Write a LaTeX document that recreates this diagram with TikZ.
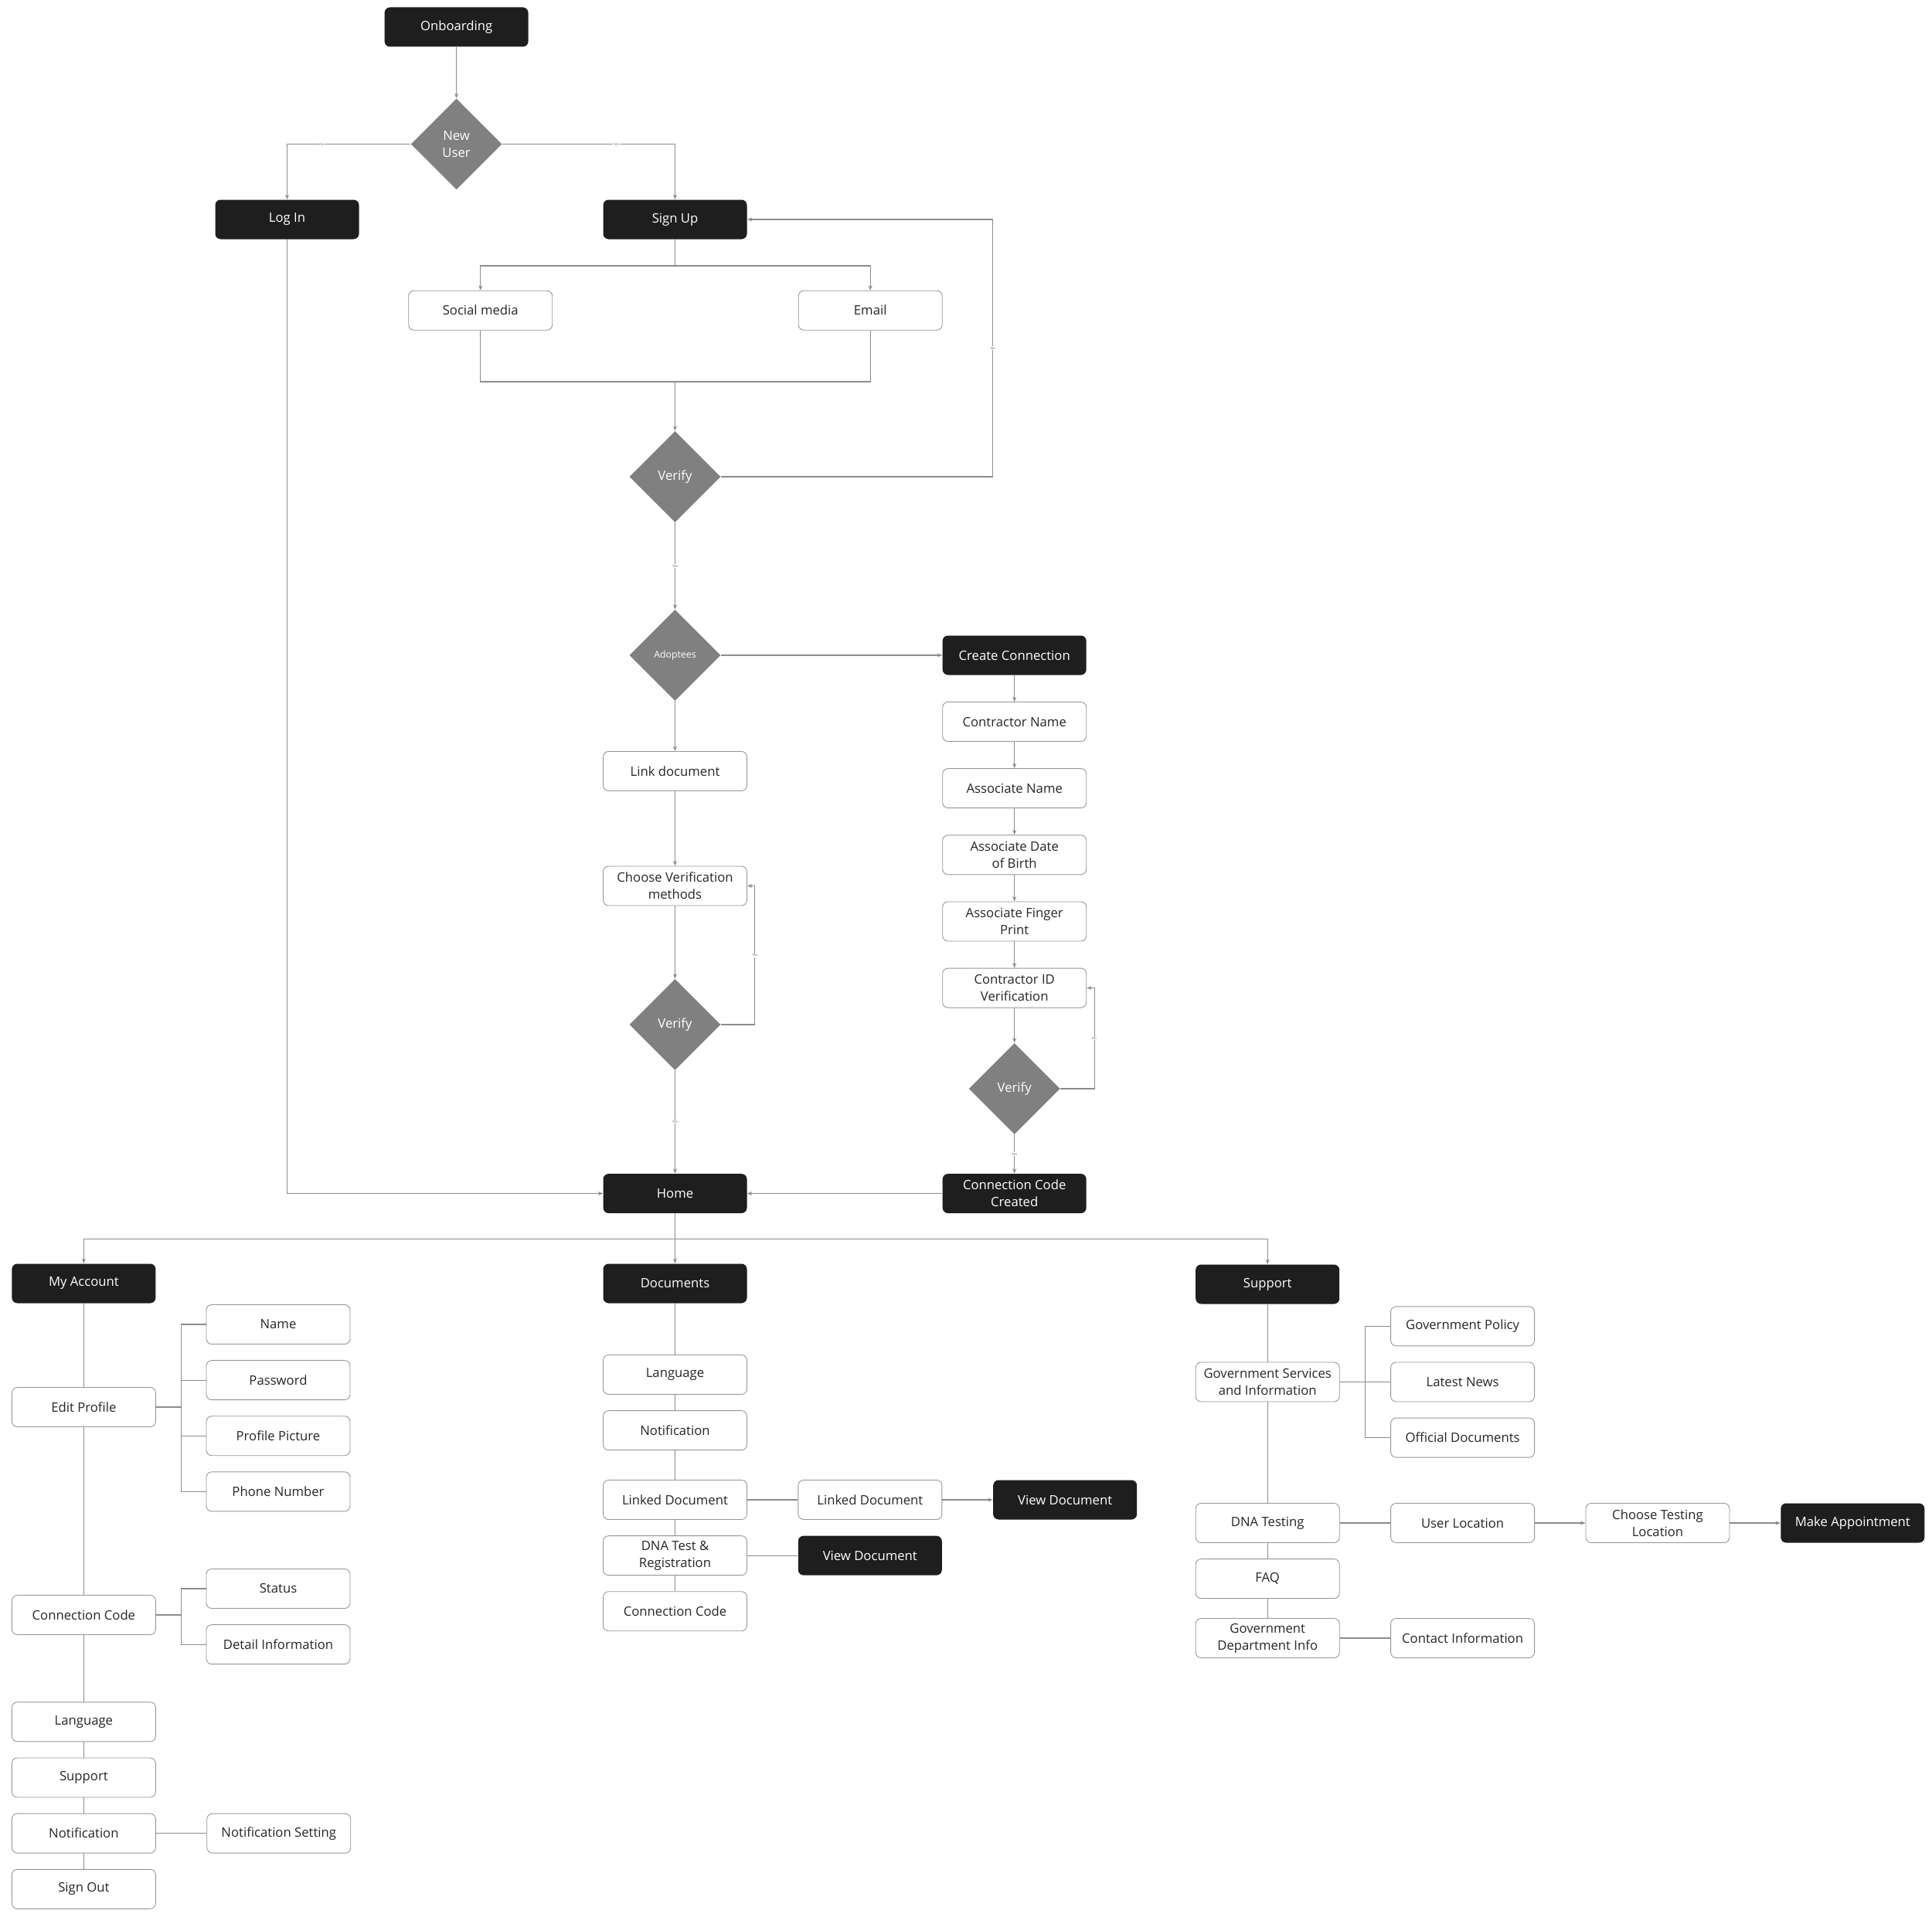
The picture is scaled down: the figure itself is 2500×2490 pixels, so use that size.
\documentclass[tikz,border=0pt]{standalone}
\usepackage{fontspec}
\setmainfont{Open Sans}
\usetikzlibrary{
    positioning,      % below=of, right=of
    arrows.meta,      % Stealth tips
    shapes.geometric, % diamond
    calc              % ($(a)+(1,0)$)
}
\definecolor{screen_dark}{RGB}{30,30,30}
\definecolor{decision_gray}{RGB}{128,128,128}
\definecolor{edge_gray}{RGB}{150,150,150}
\definecolor{wire_gray}{RGB}{140,140,140}
\tikzset{
    screen/.style={
        rectangle, rounded corners=1.4mm,
        minimum width=37.2mm, minimum height=10.2mm,
        align=center, inner sep=1pt,
        font=\fontsize{9.5}{12.5}\selectfont
    },
    mainscreen/.style={
        screen, fill=screen_dark, text=white
    },
    subscreen/.style={
        screen, draw=edge_gray, line width=0.5pt, fill=white, text=black!85
    },
    decision/.style={
        diamond, aspect=1, fill=decision_gray, text=white,
        minimum width=23.6mm, minimum height=23.6mm,
        inner sep=0pt, align=center,
        font=\fontsize{9.5}{12.5}\selectfont
    },
    wire/.style={
        draw=wire_gray, line width=0.6pt
    },
    arrow/.style={
        wire, -{Stealth[length=1.3mm, width=1mm]}
    },
    tag/.style={
        font=\fontsize{2.5}{3}\selectfont, fill=white, inner sep=0.4pt, text=black!60
    }
}

\begin{document}
\begin{tikzpicture}[x=0.2mm, y=-0.2mm, node distance=4.05mm and 13.1mm]
    \useasboundingbox (0,0) rectangle (2500,2490);

    % --- Acceso ---
    \node[mainscreen] (onboard) at (590.6,35) {Onboarding};
    \node[decision] (newuser) at (590.6,186.5) {New\\User};
    \node[mainscreen] (login) at (371.5,284) {Log In};
    \node[mainscreen] (signup) at (873.5,284) {Sign Up};
    \node[subscreen] (social) at (621.7,401.7) {Social media};
    \node[subscreen] (email) at (1126.2,401.7) {Email};
    \node[decision] (verifya) at (873.5,617) {Verify};
    \node[decision, font=\fontsize{7}{9}\selectfont] (adoptees) at (873.5,848) {Adoptees};

    % --- Conexion ---
    \node[mainscreen] (createconn) at (1312.7,848) {Create Connection};
    \node[subscreen, below=6.85mm of createconn] (contractorname) {Contractor Name};
    \node[subscreen, below=6.85mm of contractorname] (associatename) {Associate Name};
    \node[subscreen, below=6.85mm of associatename] (associatedob) {Associate Date\\of Birth};
    \node[subscreen, below=6.85mm of associatedob] (associatefinger) {Associate Finger\\Print};
    \node[subscreen, below=6.85mm of associatefinger] (contractorid) {Contractor ID\\Verification};
    \node[decision] (verifyc) at (1312.7,1409) {Verify};
    \node[mainscreen] (codecreated) at (1312.7,1544.6) {Connection Code\\Created};

    % --- Documento ---
    \node[subscreen] (linkdoc) at (873.5,998) {Link document};
    \node[subscreen] (choosemethod) at (873.5,1146.5) {Choose Verification\\methods};
    \node[decision] (verifyb) at (873.5,1326) {Verify};
    \node[mainscreen] (home) at (873.5,1544.6) {Home};

    % --- Menu principal ---
    \node[mainscreen] (account) at (108.4,1661) {My Account};
    \node[mainscreen] (documents) at (873.5,1661) {Documents};
    \node[mainscreen] (support) at (1640.2,1662) {Support};

    % --- My Account ---
    \node[subscreen] (editprofile) at (108.4,1821) {Edit Profile};
    \node[subscreen] (profname) at (360,1714) {Name};
    \node[subscreen, below=of profname] (profpass) {Password};
    \node[subscreen, below=of profpass] (profpic) {Profile Picture};
    \node[subscreen, below=of profpic] (profphone) {Phone Number};
    \node[subscreen] (acccode) at (108.4,2090) {Connection Code};
    \node[subscreen] (codestatus) at (360,2056) {Status};
    \node[subscreen, below=of codestatus] (codedetail) {Detail Information};
    \node[subscreen] (acclang) at (108.4,2228.4) {Language};
    \node[subscreen, below=of acclang] (accsupport) {Support};
    \node[subscreen, below=of accsupport] (accnotif) {Notification};
    \node[subscreen, below=of accnotif] (signout) {Sign Out};
    \node[subscreen, right=of accnotif] (notifsetting) {Notification Setting};

    % --- Documents ---
    \node[subscreen] (doclang) at (873.5,1779) {Language};
    \node[subscreen, below=of doclang] (docnotif) {Notification};
    \node[subscreen] (linkeda) at (873.5,1941) {Linked Document};
    \node[subscreen, below=of linkeda] (dnareg) {DNA Test \&\\Registration};
    \node[subscreen, below=of dnareg] (doccode) {Connection Code};
    \node[subscreen, right=of linkeda] (linkedb) {Linked Document};
    \node[mainscreen, right=of linkedb] (viewa) {View Document};
    \node[mainscreen, right=of dnareg] (viewb) {View Document};

    % --- Support ---
    \node[subscreen] (govserv) at (1640.2,1788.5) {Government Services\\and Information};
    \node[subscreen, right=of govserv] (govnews) {Latest News};
    \node[subscreen, above=of govnews] (govpolicy) {Government Policy};
    \node[subscreen, below=of govnews] (govdocs) {Official Documents};
    \node[subscreen] (dnatesting) at (1640.2,1971) {DNA Testing};
    \node[subscreen, below=of dnatesting] (faq) {FAQ};
    \node[subscreen] (govdept) at (1640.2,2120) {Government\\Department Info};
    \node[subscreen, right=of dnatesting] (userloc) {User Location};
    \node[subscreen, right=of userloc] (testloc) {Choose Testing\\Location};
    \node[mainscreen, right=of testloc] (appointment) {Make Appointment};
    \node[subscreen, right=of govdept] (contactinfo) {Contact Information};

    % puntos de derivacion
    \coordinate (signupfork) at (873.5,344);
    \coordinate (socialjoin) at (873.5,494);
    \coordinate (signuploop) at (1284.8,284);
    \coordinate (homefork) at (873.5,1603.6);

    % --- Flujo de acceso ---
    \draw[arrow] (onboard) -- (newuser);
    \draw[arrow] (newuser.west) -| (login.north)
        node[tag, pos=0.36] {No};
    \draw[arrow] (newuser.east) -| (signup.north)
        node[tag, pos=0.33] {Yes};
    \draw[wire] (signup.south) -- (signupfork);
    \draw[arrow] (signupfork) -| (social.north);
    \draw[arrow] (signupfork) -| (email.north);
    \draw[wire] (social.south) |- (socialjoin) -| (email.south);
    \draw[arrow] (socialjoin) -- (verifya.north);
    \draw[arrow] (verifya.east) -| node[tag, pos=0.75] {No} (signuploop) -- (signup.east);
    \draw[arrow] (verifya.south) -- (adoptees.north)
        node[tag, midway] {Yes};
    \draw[arrow] (adoptees.east) -- (createconn.west);
    \draw[arrow] (adoptees.south) -- (linkdoc.north);

    % --- Cadena de conexion ---
    \draw[arrow] (createconn) -- (contractorname);
    \draw[arrow] (contractorname) -- (associatename);
    \draw[arrow] (associatename) -- (associatedob);
    \draw[arrow] (associatedob) -- (associatefinger);
    \draw[arrow] (associatefinger) -- (contractorid);
    \draw[arrow] (contractorid) -- (verifyc);
    \draw[arrow] (verifyc.east) -| node[tag, pos=0.75] {No}
        ($(contractorid.east)+(10,0)$) -- (contractorid.east);
    \draw[arrow] (verifyc.south) -- (codecreated.north)
        node[tag, midway] {Yes};
    \draw[arrow] (codecreated.west) -- (home.east);

    % --- Cadena de documento ---
    \draw[arrow] (linkdoc) -- (choosemethod);
    \draw[arrow] (choosemethod) -- (verifyb);
    \draw[arrow] (verifyb.east) -| node[tag, pos=0.75] {No}
        ($(choosemethod.east)+(10,0)$) -- (choosemethod.east);
    \draw[arrow] (verifyb.south) -- (home.north)
        node[tag, midway] {Yes};
    \draw[arrow] (login.south) |- (home.west);

    % --- Menu principal ---
    \draw[wire] (home.south) -- (homefork);
    \foreach \dest in {account, documents, support}
        \draw[arrow] (homefork) -| (\dest.north);

    % My Account
    \draw[wire] (account) -- (editprofile) -- (acccode) -- (acclang)
        -- (accsupport) -- (accnotif) -- (signout);
    \foreach \leaf in {profname, profpass, profpic, profphone}
        \draw[wire] (editprofile.east) -- ++(32.6,0) |- (\leaf.west);
    \foreach \leaf in {codestatus, codedetail}
        \draw[wire] (acccode.east) -- ++(32.6,0) |- (\leaf.west);
    \draw[wire] (accnotif) -- (notifsetting);

    % Documents
    \draw[wire] (documents) -- (doclang) -- (docnotif) -- (linkeda)
        -- (dnareg) -- (doccode);
    \draw[wire] (linkeda) -- (linkedb);
    \draw[arrow] (linkedb) -- (viewa);
    \draw[wire] (dnareg) -- (viewb);

    % Support
    \draw[wire] (support) -- (govserv) -- (dnatesting) -- (faq) -- (govdept);
    \foreach \leaf in {govpolicy, govnews, govdocs}
        \draw[wire] (govserv.east) -- ++(32.5,0) |- (\leaf.west);
    \draw[wire] (dnatesting) -- (userloc);
    \draw[arrow] (userloc) -- (testloc);
    \draw[arrow] (testloc) -- (appointment);
    \draw[wire] (govdept) -- (contactinfo);

\end{tikzpicture}
\end{document}
